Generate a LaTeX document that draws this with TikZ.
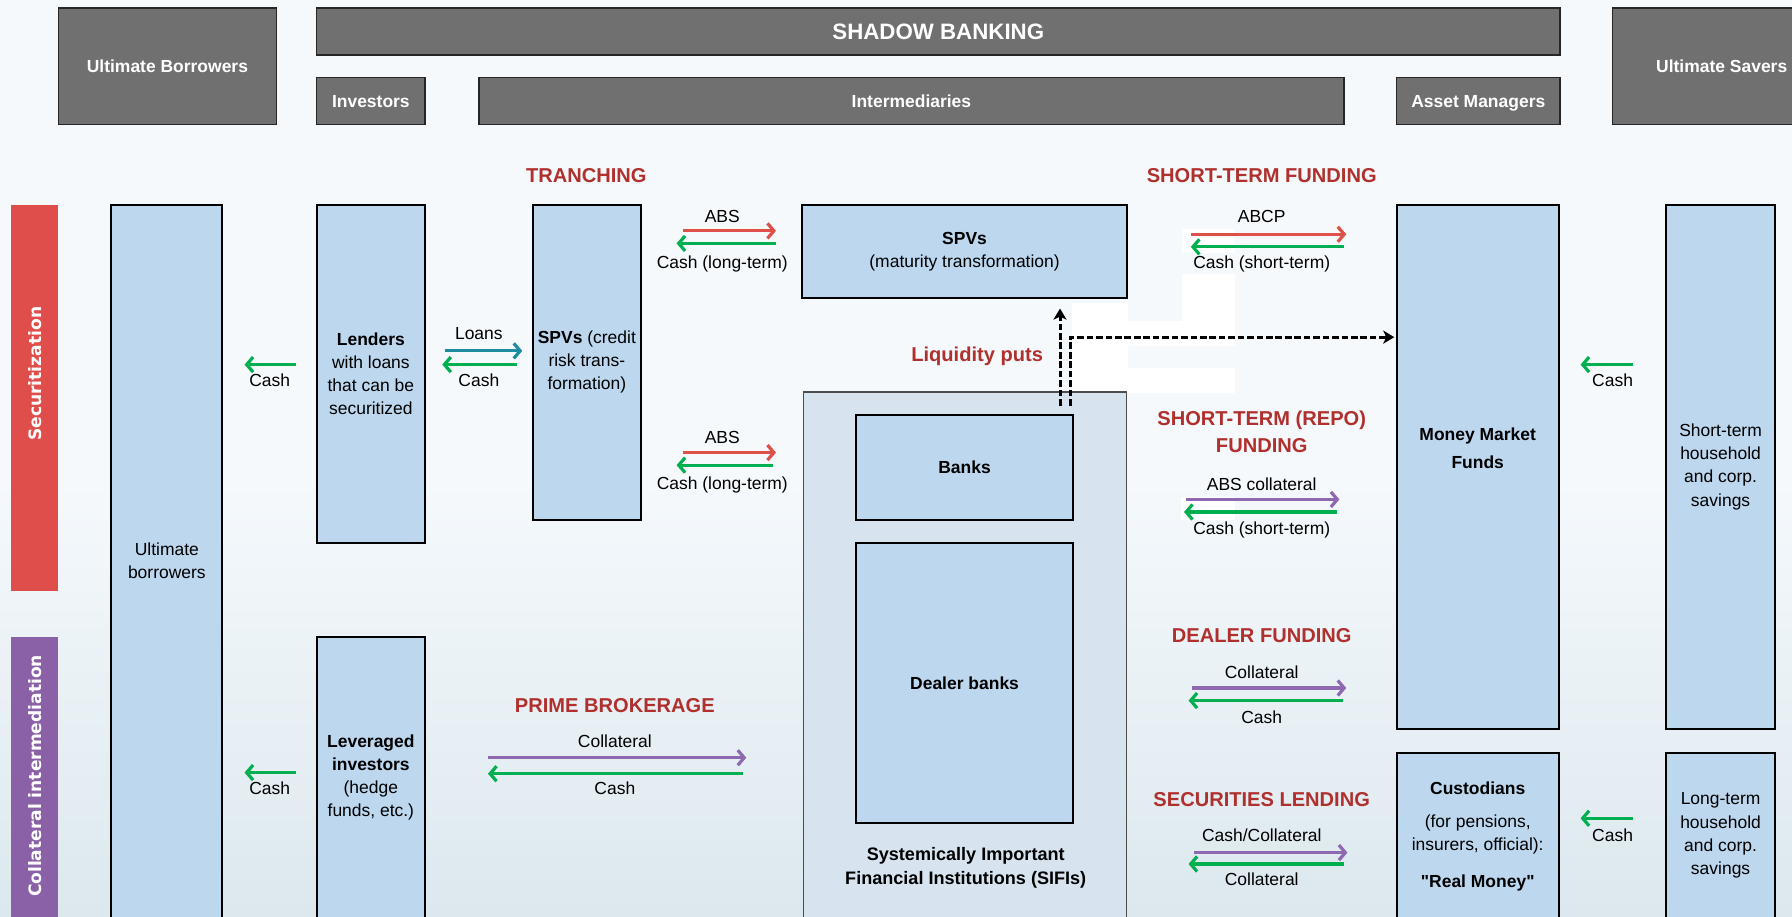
\documentclass[tikz,border=0pt]{standalone}
\usepackage{fontspec}
\setmainfont{Liberation Sans}[Ligatures=TeXOff]
\newfontfamily\barfont{DejaVu Sans}
\usetikzlibrary{arrows.meta}

\definecolor{hdrgray}{HTML}{707070}
\definecolor{boxblue}{HTML}{BDD7EE}
\definecolor{sifiblue}{HTML}{D7E3EF}
\definecolor{secred}{HTML}{DF4E4A}
\definecolor{colpurple}{HTML}{8A60A6}
\definecolor{arrred}{HTML}{E0504A}
\definecolor{arrgreen}{HTML}{00B050}
\definecolor{arrteal}{HTML}{1E8BA0}
\definecolor{arrpurple}{HTML}{8E68B0}
\definecolor{headred}{HTML}{B0302D}
\definecolor{bgtop}{HTML}{F5F9FC}
\definecolor{bgbot}{HTML}{DCE8EE}

\tikzset{
  hdr/.style={fill=hdrgray,draw=black!85,line width=0.7pt,text=white,
    font=\fontsize{8.7}{10.5}\selectfont\bfseries,inner sep=0,text depth=0pt},
  bar/.style={fill=#1,minimum width=8.2mm,inner sep=0},
  bartxt/.style={text=white,font=\barfont\fontsize{8.5}{10}\selectfont\bfseries,inner sep=0},
  unit/.style={fill=boxblue,draw=black,line width=1pt,align=center,
    font=\fontsize{8.7}{11.5}\selectfont,inner sep=0},
  txt/.style={align=center,font=\fontsize{8.7}{11.5}\selectfont,inner sep=0},
  lbl/.style={font=\fontsize{8.7}{11.5}\selectfont,inner sep=0},
  head/.style={align=center,text=headred,font=\fontsize{10}{13.7}\selectfont\bfseries,inner sep=0},
  flow/.style={line width=1.6pt,-{Straight Barb[length=3.2pt,width=7.5pt]}},
  putline/.style={line width=1.5pt,dash pattern=on 3.3pt off 1.4pt,
    -{Stealth[length=5.5pt,width=6.5pt,inset=1.5pt]}}
}

\begin{document}
\begin{tikzpicture}[x=0.2mm,y=-0.2mm]
  \useasboundingbox (0,0) rectangle (1568,802);
  \clip (0,0) rectangle (1568,802);
  % background
  \fill[bgtop] (0,0) rectangle (1568,802);
  \shade[top color=bgtop,bottom color=bgbot] (0,420) rectangle (1568,802);
  \fill[white] (938,265) rectangle (987,343);
  \fill[white] (987,281) rectangle (1081,303);
  \fill[white] (987,322) rectangle (1081,344);
  \fill[white] (1034,240) rectangle (1081,281);
  \fill[white] (1034,200) rectangle (1081,221);
  \fill[white] (1033,435) rectangle (1081,455);

  % header row
  \node[hdr,minimum width=38.2mm,minimum height=20.4mm] (hbor) at (146.5,58) {Ultimate Borrowers};
  \node[hdr,minimum width=217.6mm,minimum height=8.2mm,font=\fontsize{11.1}{13}\selectfont\bfseries] (hshadow) at (821,27.5) {SHADOW BANKING};
  \node[hdr,minimum width=19mm,minimum height=8.2mm] (hinv) at (324.5,88.5) {Investors};
  \node[hdr,minimum width=151.4mm,minimum height=8.2mm] (hint) at (797.5,88.5) {Intermediaries};
  \node[hdr,minimum width=28.6mm,minimum height=8.2mm] (ham) at (1293.5,88.5) {Asset Managers};
  \node[hdr,minimum width=38.2mm,minimum height=20.4mm] (hsav) at (1506.5,58) {Ultimate Savers};

  % side bars
  \node[bar=secred,minimum height=67.6mm] (secbar) at (30.5,348) {};
  \node[bartxt,rotate=90] (sectxt) at (31,327) {Securitization};
  \node[bar=colpurple,minimum height=54.6mm] (colbar) at (30.5,693.5) {};
  \node[bartxt,rotate=90] (coltxt) at (31,679) {Collateral intermediation};

  % boxes
  \node[unit,minimum width=19.4mm,minimum height=130.2mm] (bor) at (145.5,504.5) {};
  \node[txt] (bortxt) at (146,491) {Ultimate\\borrowers};
  \node[unit,minimum width=19mm,minimum height=59.2mm] (lend) at (324.5,327)
    {\textbf{Lenders}\\with loans\\that can be\\securitized};
  \node[unit,minimum width=19mm,minimum height=55.2mm] (spvc) at (513.5,317)
    {\textbf{SPVs} (credit\\risk trans-\\formation)};
  \node[unit,minimum width=56.8mm,minimum height=16.4mm] (spvm) at (844,220)
    {\textbf{SPVs}\\(maturity transformation)};
  \node[fill=sifiblue,draw=black!70,line width=0.5pt,minimum width=56.6mm,minimum height=97.4mm,inner sep=0] (sifi) at (844.5,586.5) {};
  \node[unit,minimum width=38mm,minimum height=18.4mm] (banks) at (844,409) {\textbf{Banks}};
  \node[unit,minimum width=38mm,minimum height=49mm] (dealer) at (844,597.5) {\textbf{Dealer banks}};
  \node[txt,font=\fontsize{9}{12}\selectfont\bfseries] (sifitxt) at (845,759.5)
    {Systemically Important\\Financial Institutions (SIFIs)};
  \node[unit,minimum width=28.4mm,minimum height=91.8mm] (mmf) at (1293,408.5) {};
  \node[txt,font=\fontsize{8.7}{13.7}\selectfont\bfseries] (mmftxt) at (1293,392) {Money Market\\Funds};
  \node[unit,minimum width=28.4mm,minimum height=34.2mm] (cust) at (1293,744.5) {};
  \node[txt] (custtxt) at (1293,732)
    {\textbf{Custodians}\\[5pt](for pensions,\\insurers, official):\\[7pt]\textbf{"Real Money"}};
  \node[unit,minimum width=19mm,minimum height=91.8mm] (stsav) at (1505.5,408.5)
    {Short-term\\household\\and corp.\\savings};
  \node[unit,minimum width=19mm,minimum height=34.2mm] (ltsav) at (1505.5,744.5) {};
  \node[txt] (ltsavtxt) at (1505.5,731) {Long-term\\household\\and corp.\\savings};
  \node[unit,minimum width=19mm,minimum height=54.6mm] (lev) at (324.5,693.5) {};
  \node[txt] (levtxt) at (324.5,680) {\textbf{Leveraged}\\\textbf{investors}\\(hedge\\funds, etc.)};

  % headings
  \node[head] (tranch) at (513,154) {TRANCHING};
  \node[head] (stfund) at (1104,154) {SHORT-TERM FUNDING};
  \node[head] (liqput) at (855,312) {Liquidity puts};
  \node[head] (repo) at (1104,378) {SHORT-TERM (REPO)\\FUNDING};
  \node[head] (dealfund) at (1104,556) {DEALER FUNDING};
  \node[head] (prime) at (538,617) {PRIME BROKERAGE};
  \node[head] (seclend) at (1104,700) {SECURITIES LENDING};

  % lenders -> borrowers
  \coordinate (c1a) at (259,319); \coordinate (c1b) at (214,319);
  \draw[flow,arrgreen] (c1a) -- (c1b);
  \node[lbl] (c1) at (236,333) {Cash};

  % loans
  \coordinate (ln1a) at (389,307); \coordinate (ln1b) at (457,307);
  \coordinate (ln2a) at (452,319); \coordinate (ln2b) at (387,319);
  \draw[flow,arrteal] (ln1a) -- (ln1b);
  \draw[flow,arrgreen] (ln2a) -- (ln2b);
  \node[lbl] (loans) at (419,292) {Loans};
  \node[lbl] (c2) at (419,333) {Cash};

  % ABS (upper)
  \coordinate (ab1a) at (598,202); \coordinate (ab1b) at (679,202);
  \coordinate (ab2a) at (679,213); \coordinate (ab2b) at (592,213);
  \draw[flow,arrred] (ab1a) -- (ab1b);
  \draw[flow,arrgreen] (ab2a) -- (ab2b);
  \node[lbl] (abs1) at (632,189) {ABS};
  \node[lbl] (cl1) at (632,231) {Cash (long-term)};

  % ABS (lower)
  \coordinate (ab3a) at (598,396); \coordinate (ab3b) at (679,396);
  \coordinate (ab4a) at (676,407); \coordinate (ab4b) at (592,407);
  \draw[flow,arrred] (ab3a) -- (ab3b);
  \draw[flow,arrgreen] (ab4a) -- (ab4b);
  \node[lbl] (abs2) at (632,383) {ABS};
  \node[lbl] (cl2) at (632,424) {Cash (long-term)};

  % ABCP
  \coordinate (cp1a) at (1042,205); \coordinate (cp1b) at (1178,205);
  \coordinate (cp2a) at (1176,216); \coordinate (cp2b) at (1042,216);
  \draw[flow,arrred] (cp1a) -- (cp1b);
  \draw[flow,arrgreen] (cp2a) -- (cp2b);
  \node[lbl] (abcp) at (1104,189) {ABCP};
  \node[lbl] (cs1) at (1104,231) {Cash (short-term)};

  % repo
  \coordinate (rp1a) at (1038,437); \coordinate (rp1b) at (1172,437);
  \coordinate (rp2a) at (1170,448); \coordinate (rp2b) at (1036,448);
  \draw[flow,arrpurple] (rp1a) -- (rp1b);
  \draw[flow,arrgreen] (rp2a) -- (rp2b);
  \node[lbl] (abscol) at (1104,424) {ABS collateral};
  \node[lbl] (cs2) at (1104,464) {Cash (short-term)};

  % dealer funding
  \coordinate (df1a) at (1043,602); \coordinate (df1b) at (1178,602);
  \coordinate (df2a) at (1175,613); \coordinate (df2b) at (1040,613);
  \draw[flow,arrpurple] (df1a) -- (df1b);
  \draw[flow,arrgreen] (df2a) -- (df2b);
  \node[lbl] (col1) at (1104,588) {Collateral};
  \node[lbl] (c3) at (1104,628) {Cash};

  % securities lending
  \coordinate (sl1a) at (1045,746); \coordinate (sl1b) at (1179,746);
  \coordinate (sl2a) at (1176,756); \coordinate (sl2b) at (1040,756);
  \draw[flow,arrpurple] (sl1a) -- (sl1b);
  \draw[flow,arrgreen] (sl2a) -- (sl2b);
  \node[lbl] (cashcol) at (1104,731) {Cash/Collateral};
  \node[lbl] (col2) at (1104,769) {Collateral};

  % prime brokerage
  \coordinate (pb1a) at (427,663); \coordinate (pb1b) at (653,663);
  \coordinate (pb2a) at (650,677); \coordinate (pb2b) at (427,677);
  \draw[flow,arrpurple] (pb1a) -- (pb1b);
  \draw[flow,arrgreen] (pb2a) -- (pb2b);
  \node[lbl] (col3) at (538,649) {Collateral};
  \node[lbl] (c4) at (538,690) {Cash};

  % leveraged investors -> borrowers
  \coordinate (c5a) at (259,676); \coordinate (c5b) at (214,676);
  \draw[flow,arrgreen] (c5a) -- (c5b);
  \node[lbl] (c5) at (236,690) {Cash};

  % savers -> asset managers
  \coordinate (c6a) at (1429,319); \coordinate (c6b) at (1383,319);
  \draw[flow,arrgreen] (c6a) -- (c6b);
  \node[lbl] (c6) at (1411,333) {Cash};
  \coordinate (c7a) at (1429,716); \coordinate (c7b) at (1383,716);
  \draw[flow,arrgreen] (c7a) -- (c7b);
  \node[lbl] (c7) at (1411,731) {Cash};

  % liquidity puts
  \coordinate (put1) at (927.5,355); \coordinate (put2) at (927.5,270);
  \coordinate (put3) at (936.5,355); \coordinate (put4) at (1220,295);
  \draw[putline] (put1) -- (put2);
  \draw[putline] (put3) |- (put4);
\end{tikzpicture}
\end{document}
